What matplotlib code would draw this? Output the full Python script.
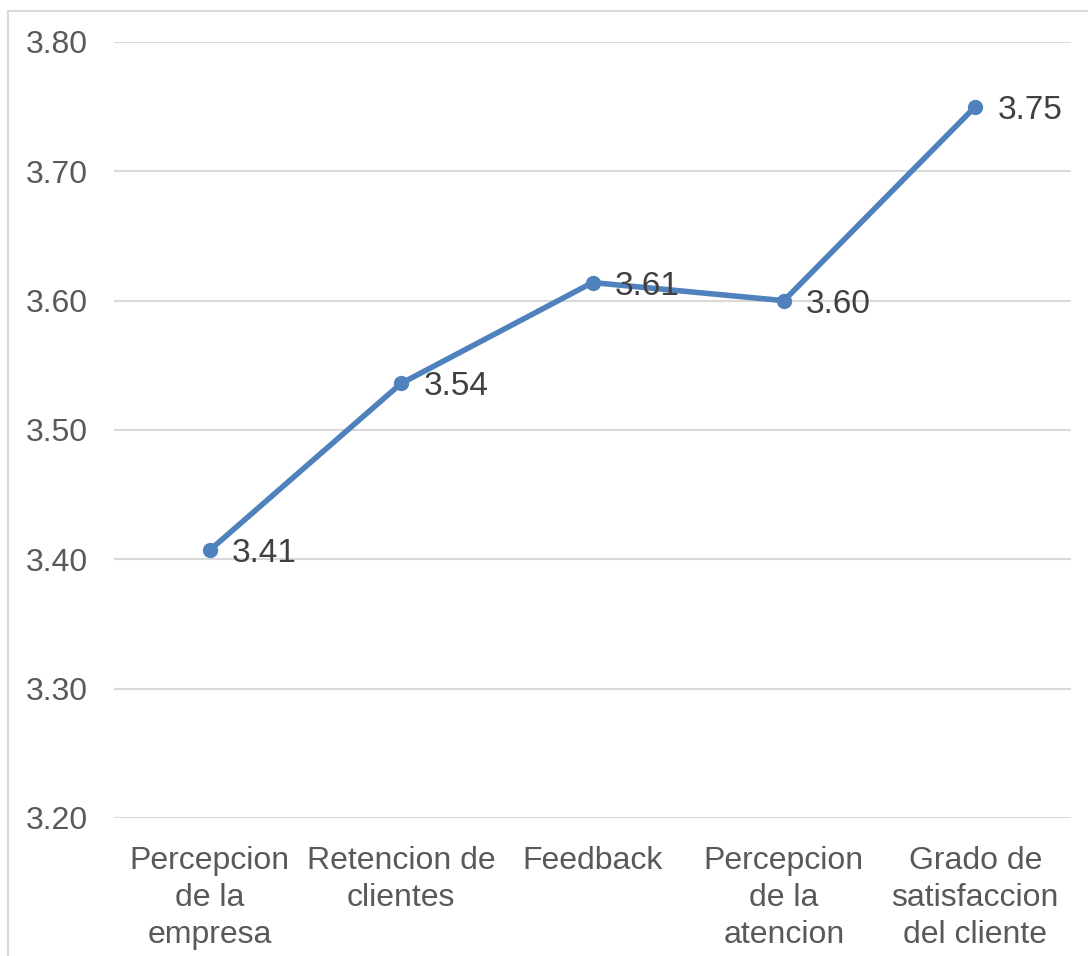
import matplotlib
matplotlib.use("Agg")
import matplotlib.pyplot as plt
from matplotlib.patches import Rectangle

categories = [
    "Percepcion\nde la\nempresa",
    "Retencion de\nclientes",
    "Feedback",
    "Percepcion\nde la\natencion",
    "Grado de\nsatisfaccion\ndel cliente",
]
values = [3.407, 3.536, 3.614, 3.600, 3.750]
y_ticks = [3.20, 3.30, 3.40, 3.50, 3.60, 3.70, 3.80]

line_color = "#4F81BD"
tick_color = "#595959"
label_color = "#404040"
grid_color = "#D9D9D9"

plt.rcParams["font.family"] = ["Liberation Sans", "DejaVu Sans"]

fig = plt.figure(figsize=(10.88, 9.56), dpi=100)
ax = fig.add_axes([114 / 1088, 1 - 818 / 956, (1071 - 114) / 1088, (818 - 42) / 956])

# outer chart border
fig.patches.append(Rectangle((8 / 1088, -0.01), 1.0, 1 - 11 / 956 + 0.01,
                             transform=fig.transFigure, fill=False,
                             edgecolor="#D9D9D9", linewidth=1.5))

x = list(range(len(categories)))
ax.plot(x, values, color=line_color, linewidth=4.0, marker="o",
        markersize=10, markerfacecolor=line_color, markeredgecolor=line_color,
        zorder=3)

for xi, v in zip(x, values):
    ax.annotate(f"{v:.2f}", (xi, v), xytext=(16, -2.5), textcoords="offset points",
                ha="left", va="center", fontsize=24, color=label_color, zorder=4)

ax.set_xlim(-0.5, len(categories) - 0.5)
ax.set_ylim(3.20, 3.80)
ax.set_yticks(y_ticks)
ax.set_yticklabels([f"{t:.2f}" for t in y_ticks])
ax.set_xticks(x)
ax.set_xticklabels(categories, linespacing=1.32)

ax.grid(axis="y", color=grid_color, linewidth=1.5)
ax.set_axisbelow(True)
for s in ax.spines.values():
    s.set_visible(False)
ax.tick_params(axis="y", length=0, pad=19, labelsize=23, labelcolor=tick_color)
ax.tick_params(axis="x", length=0, pad=20, labelsize=23, labelcolor=tick_color)

fig.savefig("out.png", dpi=100)
